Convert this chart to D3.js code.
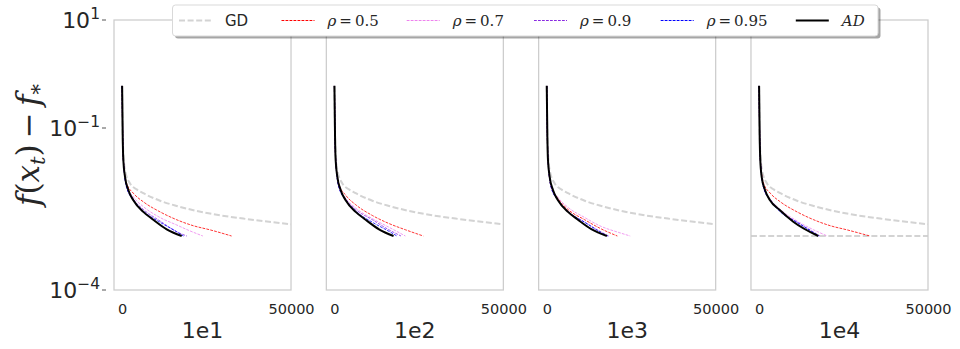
<!DOCTYPE html>
<html><head><meta charset="utf-8">
<script src="https://cdn.jsdelivr.net/npm/d3@7"></script>
<style>body{margin:0;background:#fff}svg{display:block}</style>
</head><body>
<svg id="c" width="960" height="349"></svg>
<script>
// ---------- data ----------
const panelTitles = ["1e1", "1e2", "1e3", "1e4"];
const xTicks = [0, 50000];
const yTicks = [1e1, 1e-1, 1e-4];
const yTickExp = ["1", "\u22121", "\u22124"];
const toleranceLine = [null, null, null, 1e-3];

// GD (same in every panel) [iteration, f - f*]
const gd = [[0,0.6],[180,0.07],[400,0.033],[860,0.0167],[2340,0.0094],[4320,0.0073],[6280,0.0062],[11220,0.0045],[16160,0.0036],[26020,0.0026],[35870,0.0021],[50000,0.00165]];

const rho05 = [
  [[0,0.6],[180,0.069],[400,0.024],[1360,0.0094],[3320,0.0062],[6280,0.0043],[11220,0.0028],[16160,0.0020],[21080,0.00155],[26020,0.0013],[32400,0.001]],
  [[0,0.6],[180,0.069],[400,0.024],[1360,0.0090],[3320,0.0057],[6280,0.0038],[11220,0.0024],[16160,0.0017],[21080,0.0013],[26300,0.001]],
  [[0,0.6],[180,0.069],[400,0.024],[1360,0.0080],[3320,0.0049],[6280,0.0031],[11220,0.0020],[16160,0.00135],[20900,0.001]],
  [[0,0.6],[180,0.069],[400,0.024],[1360,0.0094],[3320,0.0062],[6280,0.0043],[11220,0.0028],[16160,0.0020],[21080,0.00155],[26020,0.0013],[32800,0.001]]
];
const rho07 = [
  [[0,0.6],[180,0.069],[400,0.024],[1360,0.0085],[3320,0.0053],[6280,0.0035],[11220,0.0022],[16160,0.0016],[20000,0.00125],[23900,0.001]],
  [[0,0.6],[180,0.069],[400,0.024],[1360,0.0082],[3320,0.0050],[6280,0.0033],[11220,0.0021],[16160,0.00145],[21000,0.001]],
  [[0,0.6],[180,0.069],[400,0.024],[1360,0.0083],[3320,0.0052],[6280,0.0034],[11220,0.0022],[16160,0.0015],[21000,0.00118],[24700,0.001]],
  [[0,0.6],[180,0.069],[400,0.024],[1360,0.0079],[3320,0.0048],[6280,0.0031],[11220,0.0019],[16160,0.0013],[20200,0.001]]
];
const rho09 = [
  [[0,0.6],[180,0.069],[400,0.024],[1360,0.0080],[3320,0.0048],[6280,0.0031],[11220,0.0019],[16160,0.0012],[19150,0.001]],
  [[0,0.6],[180,0.069],[400,0.024],[1360,0.0080],[3320,0.0048],[6280,0.0031],[11220,0.0020],[16160,0.0013],[19700,0.001]],
  [[0,0.6],[180,0.069],[400,0.024],[1360,0.0078],[3320,0.0047],[6280,0.0029],[11220,0.0018],[16160,0.00118],[18300,0.001]],
  [[0,0.6],[180,0.069],[400,0.024],[1360,0.0078],[3320,0.0047],[6280,0.0029],[11220,0.0018],[16160,0.00118],[18000,0.001]]
];
const rho095 = [
  [[0,0.6],[180,0.069],[400,0.024],[1360,0.0078],[3320,0.0047],[6280,0.0029],[11220,0.0018],[16160,0.0012],[18150,0.001]],
  [[0,0.6],[180,0.069],[400,0.024],[1360,0.0078],[3320,0.0047],[6280,0.0029],[11220,0.0018],[16160,0.00122],[18500,0.001]],
  [[0,0.6],[180,0.069],[400,0.024],[1360,0.0077],[3320,0.0046],[6280,0.0028],[11220,0.0018],[16160,0.00115],[18000,0.001]],
  [[0,0.6],[180,0.069],[400,0.024],[1360,0.0077],[3320,0.0046],[6280,0.0028],[11220,0.0018],[16160,0.00115],[17700,0.001]]
];
const ad = [
  [[0,0.607],[180,0.069],[360,0.0255],[860,0.0125],[1840,0.0071],[3320,0.0046],[6280,0.0028],[9240,0.0020],[13200,0.00133],[17640,0.001]],
  [[0,0.607],[180,0.069],[360,0.0255],[860,0.0125],[1840,0.0071],[3320,0.0046],[6280,0.0028],[9240,0.0020],[13200,0.00133],[17500,0.001]],
  [[0,0.607],[180,0.069],[360,0.0255],[860,0.0125],[1840,0.0071],[3320,0.0046],[6280,0.0028],[9240,0.0020],[13200,0.00134],[17800,0.001]],
  [[0,0.607],[180,0.069],[360,0.0255],[770,0.0125],[1750,0.0071],[3230,0.0046],[6190,0.0030],[10120,0.00184],[17520,0.001]]
];

const seriesStyles = [
  {name:"GD",    data: [gd, gd, gd, gd], color:"#d3d3d3", width:2,   dash:"6,2.6"},
  {name:"0.5",   data: rho05, color:"#ff0000", width:0.8, dash:"2.8,1.2"},
  {name:"0.7",   data: rho07, color:"#ee82ee", width:0.8, dash:"2.8,1.2"},
  {name:"0.9",   data: rho09, color:"#8a2be2", width:0.8, dash:"2.8,1.2"},
  {name:"0.95",  data: rho095, color:"#0000ff", width:0.8, dash:"2.8,1.2"},
  {name:"AD",    data: ad, color:"#000000", width:2, dash:null}
];

// ---------- layout ----------
const svg = d3.select("#c");
const mTop = 20, mBottom = 290, plotLeft = 114, plotRight = 928, gap = 35.3;
const pw = (plotRight - plotLeft - 3 * gap) / 4;
const ph = mBottom - mTop;
const x = d3.scaleLinear().domain([-2400, 50000]).range([0, pw]);
const y = d3.scaleLog().domain([1e-4, 1e1]).range([ph, 0]);
const frame = "#cccccc";
const textColor = "#262626";

const line = d3.line().x(d => x(d[0])).y(d => y(d[1])).curve(d3.curveMonotoneX);

panelTitles.forEach((title, i) => {
  const g = svg.append("g").attr("transform", `translate(${plotLeft + i * (pw + gap)},${mTop})`);
  const clipId = "clip" + i;
  g.append("clipPath").attr("id", clipId).append("rect").attr("width", pw).attr("height", ph);
  const plot = g.append("g").attr("clip-path", `url(#${clipId})`);

  if (toleranceLine[i] !== null) {
    plot.append("line").attr("x1", 0).attr("x2", pw)
      .attr("y1", y(toleranceLine[i])).attr("y2", y(toleranceLine[i]))
      .attr("stroke", "#d3d3d3").attr("stroke-width", 2).attr("stroke-dasharray", "6,2.6");
  }
  seriesStyles.forEach(s => {
    plot.append("path").attr("d", line(s.data[i]))
      .attr("fill", "none").attr("stroke", s.color).attr("stroke-width", s.width)
      .attr("stroke-dasharray", s.dash).attr("stroke-linecap", "butt");
  });

  g.append("rect").attr("width", pw).attr("height", ph)
    .attr("fill", "none").attr("stroke", frame).attr("stroke-width", 1.25);

  // x tick labels
  const xa = d3.axisBottom(x).tickValues(xTicks).tickSize(0).tickPadding(0).tickFormat(d3.format("d"));
  const xg = g.append("g").attr("transform", `translate(0,${ph})`).call(xa);
  xg.select(".domain").remove();
  xg.selectAll("text").attr("font-family", "DejaVu Sans").attr("font-size", 14.5)
    .attr("fill", textColor).attr("dy", null).attr("y", 23.5);

  g.append("text").attr("x", pw / 2).attr("y", ph + 48)
    .attr("text-anchor", "middle").attr("font-family", "DejaVu Sans").attr("font-size", 22)
    .attr("fill", textColor).text(title);

  if (i === 0) {
    yTicks.forEach((t, k) => {
      g.append("line").attr("x1", -12).attr("x2", -8).attr("y1", y(t)).attr("y2", y(t))
        .attr("stroke", "#555").attr("stroke-width", 1);
      const tx = g.append("text").attr("x", -14).attr("y", y(t) + 8).attr("text-anchor", "end")
        .attr("font-family", "DejaVu Sans").attr("fill", textColor);
      tx.append("tspan").attr("font-size", 22).text("10");
      tx.append("tspan").attr("font-size", 15.5).attr("dy", -9.5).text(yTickExp[k]);
    });
  }
});

// y label
const yl = svg.append("text").attr("transform", "translate(39,145) rotate(-90)")
  .attr("text-anchor", "middle").attr("font-family", "DejaVu Serif").attr("font-size", 31)
  .attr("fill", textColor);
yl.append("tspan").attr("font-style", "italic").text("f");
yl.append("tspan").text("(");
yl.append("tspan").attr("font-style", "italic").text("x");
yl.append("tspan").attr("font-style", "italic").attr("font-size", 21).attr("dy", 6).text("t");
yl.append("tspan").attr("dy", -6).text(")\u2009\u2212\u2009");
yl.append("tspan").attr("font-style", "italic").text("f");
yl.append("tspan").attr("font-size", 21).attr("dy", 7).text("*");

// legend
const lg = svg.append("g");
lg.append("rect").attr("x", 175).attr("y", 7.5).attr("width", 705.5).attr("height", 31)
  .attr("rx", 3).attr("fill", "#000").attr("opacity", 0.35);
lg.append("rect").attr("x", 172.5).attr("y", 5).attr("width", 705.5).attr("height", 31)
  .attr("rx", 3).attr("fill", "#fff").attr("stroke", "#d9d9d9").attr("stroke-width", 1);
const legendX = [179, 281.5, 406.7, 534, 660.7, 795.8];
seriesStyles.forEach((s, k) => {
  const lx = legendX[k], ly = 20.5;
  lg.append("line").attr("x1", lx).attr("x2", lx + 33).attr("y1", ly).attr("y2", ly)
    .attr("stroke", s.color).attr("stroke-width", (k === 0 || k === 5) ? 2 : 1.2)
    .attr("stroke-dasharray", s.dash);
  const t = lg.append("text").attr("x", lx + 46).attr("y", ly + 5.5).attr("fill", textColor);
  if (k === 0) {
    t.attr("font-family", "DejaVu Sans").attr("font-size", 15).text(s.name);
  } else if (k === 5) {
    t.attr("font-family", "DejaVu Serif").attr("font-style", "italic").attr("font-size", 15).text(s.name);
  } else {
    t.attr("font-family", "DejaVu Serif").attr("font-size", 15);
    t.append("tspan").attr("font-style", "italic").text("\u03c1");
    t.append("tspan").text("\u2009=\u2009" + s.name);
  }
});
</script>
</body></html>
